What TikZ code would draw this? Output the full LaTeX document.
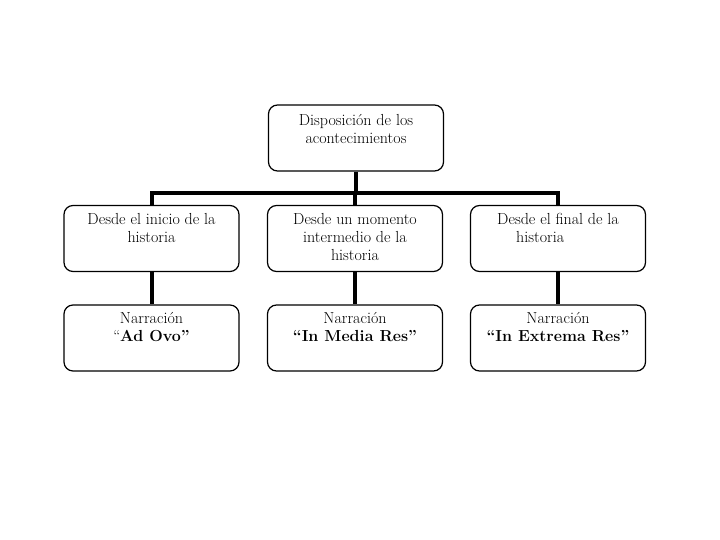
\documentclass[tikz,border=0pt]{standalone}
\begin{document}
\begin{tikzpicture}[x=1pt,y=-1pt,
  box/.style={draw, line width=1.2pt, rounded corners=9pt, minimum width=175pt, minimum height=66pt, inner sep=0pt},
  txt/.style={anchor=north, align=center, inner sep=0pt, font=\fontsize{16}{18}\selectfont},
  conn/.style={line width=4pt}]
\useasboundingbox (0,0) rectangle (720,540);
\node[box] (top) at (356,138) {};
\node[box] (a1) at (151.5,238.5) {};
\node[box] (a2) at (355,238.5) {};
\node[box] (a3) at (558,238.5) {};
\node[box] (b1) at (151.5,338) {};
\node[box] (b2) at (355,338) {};
\node[box] (b3) at (558,338) {};
\node[txt] (ttop) at ([yshift=-10pt]top.north) {Disposición de los\\acontecimientos};
\node[txt] (ta1) at ([yshift=-8pt]a1.north) {Desde el inicio de la\\historia};
\node[txt] (ta2) at ([yshift=-8pt]a2.north) {Desde un momento\\intermedio de la\\historia};
\node[txt, align=left] (ta3) at ([yshift=-8pt]a3.north) {Desde el final de la\\\hspace*{19pt}historia};
\node[txt] (tb1) at ([yshift=-8pt]b1.north) {Narración\\“\textbf{Ad Ovo”}};
\node[txt] (tb2) at ([yshift=-8pt]b2.north) {Narración\\\textbf{“In Media Res”}};
\node[txt] (tb3) at ([yshift=-8pt]b3.north) {Narración\\\textbf{“In Extrema Res”}};
\coordinate (bar) at (355,193);
\draw[conn] (top.south) -- (top.south |- bar);
\draw[conn] (a1.north) |- (bar) -| (a3.north);
\draw[conn] (bar) -- (a2.north);
\draw[conn] (a1.south) -- (b1.north);
\draw[conn] (a2.south) -- (b2.north);
\draw[conn] (a3.south) -- (b3.north);
\end{tikzpicture}
\end{document}
